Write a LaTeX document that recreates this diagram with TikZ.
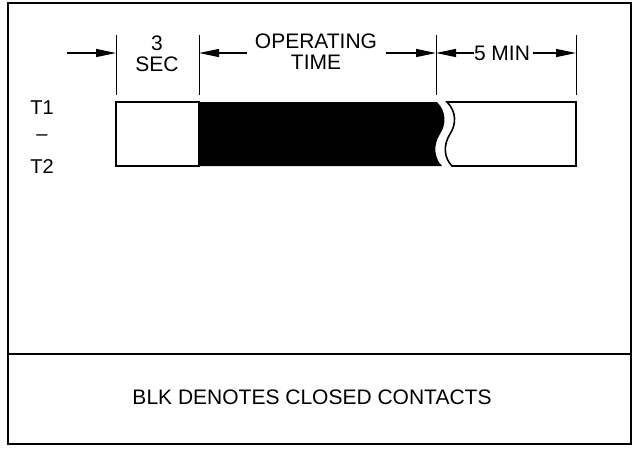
\documentclass[tikz,border=0pt]{standalone}
\usepackage{fontspec}
\setmainfont{Liberation Sans}
\usetikzlibrary{arrows.meta,positioning}

\begin{document}
\begin{tikzpicture}[x=1pt, y=-1pt,
    frame/.style={draw, line width=1.8pt},
    tick/.style={draw, line width=0.9pt},
    dimarrow/.style={-{Triangle[length=20pt, width=8pt]}, line width=1.3pt},
    bar/.style={draw, line width=1.6pt},
    label_text/.style={font=\fontsize{21}{21}\selectfont, align=center, inner sep=0pt},
    contact_text/.style={font=\fontsize{20}{20}\selectfont, inner sep=0pt}
]
\useasboundingbox (0,0) rectangle (635,448);

% --- Frame ---
\draw[frame] (8,3) rectangle (631,444);
\draw[frame] (8,354) -- (631,354);

% --- Dimension ticks ---
\foreach \x/\name in {116/A, 199/B, 436/C, 576/D} {
    \coordinate (top\name) at (\x,35);
    \coordinate (bot\name) at (\x,95);
    \coordinate (dim\name) at (\x,53);
    \draw[tick] (top\name) -- (bot\name);
}

% --- Dimension labels ---
\node[label_text] (sec) at (157,54) {3\\SEC};
\node[label_text] (optime) at (316,52) {OPERATING\\TIME};
\node[label_text] (fivemin) at (502,53) {5 MIN};

% --- Dimension arrows ---
\coordinate (startA) at (67,53);
\coordinate (opL) at (247,53);
\coordinate (opR) at (386,53);
\draw[dimarrow] (startA) -- (dimA);
\draw[dimarrow] (opL) -- (dimB);
\draw[dimarrow] (opR) -- (dimC);
\draw[dimarrow] (fivemin.west) -- (dimC);
\draw[dimarrow] ([xshift=3pt]fivemin.east) -- (dimD);

% --- Contact labels ---
\node[contact_text] (t1) at (42,108) {T1};
\node[contact_text] (dash) at (42,138) {–};
\node[contact_text] (t2) at (42,167) {T2};

% --- Contact bar ---
\draw[bar] (116,102) rectangle (199,166);
\fill (199,102) -- (437,102)
    .. controls (447,112) and (446,125) .. (440,134)
    .. controls (433,145) and (434,158) .. (442,166)
    -- (199,166) -- cycle;
\draw[bar] (447,102)
    .. controls (457,112) and (456,125) .. (450,134)
    .. controls (443,145) and (444,158) .. (452,166)
    -- (576,166) -- (576,102) -- cycle;

% --- Note ---
\node[label_text] (note) at (312,397) {BLK DENOTES CLOSED CONTACTS};

\end{tikzpicture}
\end{document}
